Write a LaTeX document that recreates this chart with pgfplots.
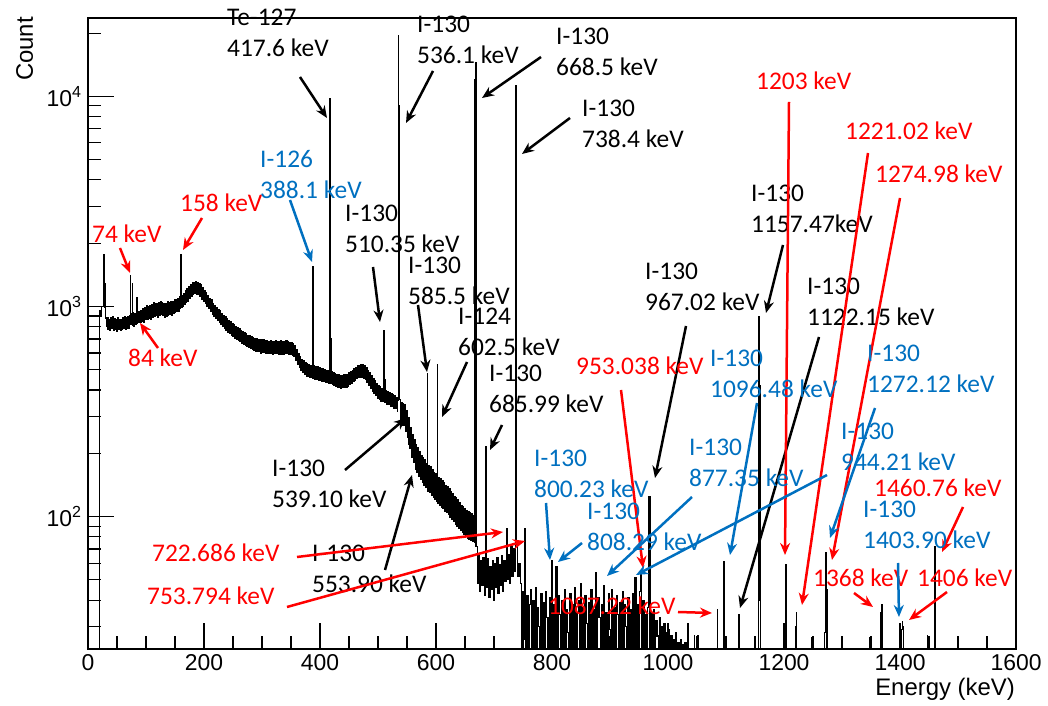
\documentclass[border=0pt]{standalone}
\usepackage{fontspec}
\setmainfont{Liberation Sans}
\newfontfamily\annofont{Carlito}
\usepackage{pgfplots}
\pgfplotsset{compat=1.18}
\usepackage{pgfplotstable}
\usetikzlibrary{arrows.meta,calc}
\definecolor{annored}{RGB}{255,0,0}
\definecolor{annoblue}{RGB}{0,112,192}

% gamma spectrum, counts per bin (values below ymin fall off the bottom, like empty bins)
\pgfplotstableread[row sep=\\]{
E N\\
19 1\\ 20 960\\ 22 900\\ 24 1000\\ 27 1770\\ 28 990\\ 29 1290\\ 30 880\\ 31.5 800\\
33 885\\ 34.5 775\\ 36 870\\ 37.5 770\\ 39 880\\ 40.5 785\\ 42 890\\ 43.5 765\\ 45 875\\ 46.5 780\\
48 865\\ 49.5 760\\ 51 880\\ 52.5 775\\ 54 870\\ 55.5 770\\ 57 865\\ 58.5 780\\ 60 885\\ 61.5 790\\
63 895\\ 64.5 775\\ 66 880\\ 67.5 785\\ 69 890\\ 70.5 790\\ 72 900\\ 73 1400\\ 74 820\\ 75 920\\
76 1290\\ 77 815\\ 78 930\\ 79 800\\ 80.5 925\\ 82 820\\ 83 935\\ 84 1100\\ 85 830\\ 86 945\\
87 835\\ 88.5 950\\ 90 840\\ 91.5 960\\ 93 850\\ 94.5 975\\ 96 835\\ 97.5 985\\ 99 865\\ 100.5 1010\\
102 870\\ 103.5 1000\\ 105 875\\ 106.5 1005\\ 108 870\\ 109.5 1015\\ 111 890\\ 112.5 1040\\ 114 895\\ 115.5 1030\\
117 905\\ 118.5 1035\\ 120 890\\ 121.5 1040\\ 123 905\\ 124.5 1060\\ 126 915\\ 127.5 1045\\ 129 910\\ 130.5 1035\\
132 890\\ 133.5 1030\\ 135 900\\ 136.5 1050\\ 138 905\\ 139.5 1040\\ 141 915\\ 142.5 1050\\ 144 905\\ 145.5 1055\\
147 930\\ 148.5 1075\\ 150 940\\ 151.5 1080\\ 153 950\\ 154.5 1095\\ 156 945\\ 157.5 1110\\ 159 975\\ 160 1770\\
161 990\\ 162 1130\\ 163 1000\\ 164.5 1155\\ 166 1020\\ 167.5 1185\\ 169 1045\\ 170.5 1215\\ 172 1060\\ 173.5 1240\\
175 1095\\ 176.5 1270\\ 178 1115\\ 179.5 1300\\ 181 1135\\ 182.5 1305\\ 184 1150\\ 185.5 1320\\ 187 1140\\ 188.5 1305\\
190 1140\\ 191.5 1290\\ 193 1115\\ 194.5 1265\\ 196 1085\\ 197.5 1230\\ 199 1060\\ 200.5 1195\\ 202 1035\\ 203.5 1170\\
205 1005\\ 206.5 1130\\ 208 975\\ 209.5 1095\\ 211 950\\ 212.5 1075\\ 214 920\\ 215.5 1035\\ 217 900\\ 218.5 1010\\
220 875\\ 221.5 990\\ 223 855\\ 224.5 965\\ 226 835\\ 227.5 955\\ 229 820\\ 230.5 925\\ 232 800\\ 233.5 905\\
235 785\\ 236.5 890\\ 238 765\\ 239.5 875\\ 241 755\\ 242.5 860\\ 244 745\\ 245.5 845\\ 247 730\\ 248.5 825\\
250 720\\ 251.5 815\\ 253 705\\ 254.5 800\\ 256 700\\ 257.5 790\\ 259 690\\ 260.5 785\\ 262 680\\ 263.5 770\\
265 665\\ 266.5 760\\ 268 660\\ 269.5 750\\ 271 655\\ 272.5 745\\ 274 645\\ 275.5 730\\ 277 635\\ 278.5 725\\
280 630\\ 281.5 715\\ 283 625\\ 284.5 712\\ 286 620\\ 287.5 705\\ 289 610\\ 290.5 700\\ 292 612\\ 293.5 698\\
295 608\\ 296.5 695\\ 298 600\\ 299.5 692\\ 301 605\\ 302.5 695\\ 304 603\\ 305.5 688\\ 307 598\\ 308.5 685\\
310 598\\ 311.5 683\\ 313 595\\ 314.5 688\\ 316 596\\ 317.5 680\\ 319 592\\ 320.5 680\\ 322 595\\ 323.5 684\\
325 595\\ 326.5 680\\ 328 590\\ 329.5 680\\ 331 594\\ 332.5 686\\ 334 594\\ 335.5 680\\ 337 592\\ 338.5 681\\
340 596\\ 341.5 684\\ 343 595\\ 344.5 678\\ 346 590\\ 347.5 676\\ 349 592\\ 350.5 672\\ 352 585\\ 353.5 665\\
355 575\\ 356.5 650\\ 358 555\\ 359.5 625\\ 361 530\\ 362.5 595\\ 364 512\\ 365.5 575\\ 367 495\\ 368.5 560\\
370 483\\ 371.5 550\\ 373 474\\ 374.5 540\\ 376 465\\ 377.5 535\\ 379 463\\ 380.5 530\\ 382 458\\ 383.5 525\\
385 457\\ 386 520\\ 387 1550\\ 388 455\\ 389.5 520\\ 391 450\\ 392.5 515\\ 394 450\\ 395.5 515\\ 397 445\\
398.5 510\\ 400 445\\ 401.5 508\\ 403 440\\ 404.5 505\\ 406 440\\ 407.5 500\\ 409 435\\ 410.5 497\\ 412 434\\
413.5 496\\ 415 430\\ 416 490\\ 417 9750\\ 418 700\\ 419 428\\ 420 488\\ 421 425\\ 422.5 484\\ 424 420\\
425.5 480\\ 427 417\\ 428.5 476\\ 430 412\\ 431.5 472\\ 433 412\\ 434.5 470\\ 436 408\\ 437.5 469\\ 439 410\\
440.5 472\\ 442 411\\ 443.5 472\\ 445 412\\ 446.5 476\\ 448 418\\ 449.5 484\\ 451 424\\ 452.5 490\\ 454 429\\
455.5 497\\ 457 438\\ 458.5 505\\ 460 443\\ 461.5 512\\ 463 452\\ 464.5 522\\ 466 458\\ 467.5 525\\ 469 459\\
470.5 529\\ 472 461\\ 473.5 526\\ 475 455\\ 476.5 520\\ 478 447\\ 479.5 512\\ 481 434\\ 482.5 496\\ 484 419\\
485.5 482\\ 487 408\\ 488.5 468\\ 490 394\\ 491.5 454\\ 493 385\\ 494.5 443\\ 496 376\\ 497.5 430\\ 499 366\\
500.5 422\\ 502 362\\ 503.5 414\\ 505 354\\ 506.5 408\\ 508 352\\ 509 400\\ 510 770\\ 511 450\\ 512 348\\
513.5 398\\ 515 341\\ 516.5 393\\ 518 340\\ 519.5 390\\ 521 334\\ 522.5 384\\ 524 333\\ 525.5 382\\ 527 328\\
528.5 376\\ 530 326\\ 531.5 370\\ 533 316\\ 534 355\\ 535 19500\\ 536 9000\\
537 360\\ 538.5 285\\ 540 350\\ 541.5 272\\ 543 345\\ 544.5 270\\ 546 340\\ 547.5 255\\ 549 320\\ 550.5 238\\
552 295\\ 553 220\\ 554 295\\ 555 210\\ 556.5 265\\ 558 192\\ 559.5 246\\ 561 180\\ 562.5 232\\ 564 168\\
565.5 220\\ 567 162\\ 568.5 212\\ 570 155\\ 571.5 204\\ 573 150\\ 574.5 196\\ 576 145\\ 577.5 190\\ 579 141\\
580.5 186\\ 582 137\\ 583.5 179\\ 585 480\\ 586 132\\ 587.5 174\\ 589 130\\ 590.5 172\\ 592 126\\ 593.5 168\\
595 123\\ 596.5 162\\ 598 120\\ 599.5 160\\ 601 118\\ 602 530\\ 603 116\\ 604.5 154\\ 606 113\\ 607.5 151\\
609 111\\ 610.5 148\\ 612 109\\ 613.5 145\\ 615 106\\ 616.5 141\\ 618 104\\ 619.5 139\\ 621 102\\ 622.5 136\\
624 99\\ 625.5 131\\ 627 97\\ 628.5 129\\ 630 95\\ 631.5 125\\ 633 92\\ 634.5 123\\ 636 90\\ 637.5 120\\
639 88\\ 640.5 117\\ 642 86\\ 643.5 113\\ 645 84\\ 646.5 111\\ 648 82\\ 649.5 109\\ 651 80\\ 652.5 107\\
654 79\\ 655.5 105\\ 657 78\\ 658.5 104\\ 660 77\\ 661.5 103\\ 663 76\\ 664.5 101\\ 666 75\\
667 12000\\ 668 14500\\
669 72\\ 671 48\\ 673 66\\ 675 44\\ 677 62\\ 679 47\\ 681 64\\ 683 42\\ 685 60\\ 686 215\\
687 46\\ 689 63\\ 691 41\\ 693 58\\ 695 45\\ 697 62\\ 699 40\\ 701 60\\ 703 46\\ 705 64\\
707 43\\ 709 59\\ 711 47\\ 713 65\\ 715 44\\ 717 62\\ 719 49\\ 721 67\\ 722 88\\ 723 50\\
725 66\\ 727 48\\ 729 72\\ 731 52\\ 733 70\\ 735 55\\ 737 3500\\ 738 11250\\ 739 74\\ 741 52\\
743 60\\ 745 48\\ 747 20\\ 749 44\\ 751 26\\ 753 88\\ 755 15\\ 757 42\\ 759 19\\ 761 38\\
763 45\\ 765 12\\ 767 40\\ 769 21\\ 771 46\\ 773 17\\ 775 37\\ 777 30\\ 779 14\\ 781 43\\
783 20\\ 785 39\\ 787 10\\ 789 44\\ 791 33\\ 793 18\\ 795 41\\ 797 22\\ 799 62\\ 801 12\\
803 38\\ 805 20\\ 807 58\\ 809 16\\ 811 42\\ 813 34\\ 815 13\\ 817 40\\ 819 21\\ 821 45\\
823 18\\ 825 36\\ 827 28\\ 829 11\\ 831 43\\ 833 19\\ 835 38\\ 837 22\\ 839 46\\ 841 15\\
843 35\\ 845 40\\ 847 10\\ 849 48\\ 851 20\\ 853 37\\ 855 17\\ 857 42\\ 859 31\\ 861 14\\
863 39\\ 865 21\\ 867 45\\ 869 12\\ 871 36\\ 873 19\\ 875 54\\ 877 16\\ 879 41\\ 881 33\\
883 20\\ 885 38\\ 887 13\\ 889 47\\ 891 22\\ 893 35\\ 895 18\\ 897 43\\ 899 29\\ 901 11\\
903 45\\ 905 20\\ 907 37\\ 909 16\\ 911 42\\ 913 34\\ 915 12\\ 917 39\\ 919 21\\ 921 44\\
923 17\\ 925 38\\ 927 30\\ 929 14\\ 931 41\\ 933 20\\ 935 36\\ 937 15\\ 939 43\\ 941 19\\
943 51\\ 945 13\\ 947 38\\ 949 26\\ 951 44\\ 953 53\\ 955 17\\ 957 40\\ 959 20\\ 961 34\\
963 12\\ 965 37\\ 967 124\\ 969 18\\ 971 35\\ 973 14\\ 975 36\\ 977 20\\ 979 32\\ 981 27\\
983 11\\ 985 33\\ 987 18\\ 989 30\\ 991 13\\ 993 31\\ 995 20\\ 997 28\\ 999 10\\ 1001 29\\
1003 17\\ 1005 27\\ 1007 12\\ 1009 26\\ 1011 18\\ 1013 28\\ 1015 10\\ 1017 25\\ 1019 14\\ 1021 26\\
1023 10\\ 1025 24.5\\ 1027 12\\ 1029 25\\ 1031 10\\
1034 31\\ 1035 10\\ 1045 27\\ 1046 10\\ 1051 27\\ 1052 10\\ 1085 36\\ 1086 10\\
1095 55\\ 1096 61\\ 1097 48\\ 1098 10\\ 1121 31\\ 1122 34\\ 1123 10\\
1156 40\\ 1157 890\\ 1158 420\\ 1159 55\\ 1160 10\\ 1202 29\\ 1203 59\\ 1204 32\\ 1205 10\\
1220 30\\ 1221 35\\ 1222 10\\ 1248 26.5\\ 1249 10\\ 1270 28\\ 1271 36\\ 1272 67\\ 1273 45\\ 1274 10\\
1300 26.5\\ 1301 10\\ 1348 26.5\\ 1349 10\\ 1367 35\\ 1368 38\\ 1369 10\\
1403 29\\ 1404 31.6\\ 1405 30\\ 1406 10\\ 1447 27\\ 1448 10\\ 1459 45\\ 1460 72\\ 1461 10\\
1500 26.5\\ 1501 10\\ 1550 26.5\\ 1551 10\\ 1600 10\\
}\spectrum

\newcommand\twolab[5]{%
  \node[anchor=base west,text=#1] at (#2,#3) {#4};
  \node[anchor=base west,text=#1] at (#2,#3+31) {#5};}
\newcommand\onelab[4]{\node[anchor=base west,text=#1] at (#2,#3) {#4};}
\newcommand\arr[5]{\draw[#1,line width=2.5bp,-{Stealth[length=12bp,width=10bp]}] (#2,#3) -- (#4,#5);}

\begin{document}
\begin{tikzpicture}
\begin{axis}[name=ax, scale only axis, width=928bp, height=631bp,
  xmin=0, xmax=1600, ymin=23.4, ymax=23600, ymode=log,
  axis line style={line width=1.1bp},
  tick align=inside, xtick pos=left, ytick pos=left,
  xtick={0,200,...,1600}, minor x tick num=3,
  ytick={100,1000,10000},
  yticklabels={10\textsuperscript{2},10\textsuperscript{3},10\textsuperscript{4}},
  minor ytick={30,40,50,60,70,80,90,200,300,400,500,600,700,800,900,2000,3000,4000,5000,6000,7000,8000,9000,20000},
  major tick length=26bp, minor tick length=13bp,
  every tick/.style={black, line width=1.1bp},
  ticklabel style={font=\fontsize{23}{23}\selectfont},
  /pgf/number format/assume math mode=true, /pgf/number format/1000 sep={},
  yticklabel style={xshift=-3bp},
  xticklabel style={yshift=-2bp},
]
\addplot[const plot, black, line width=1.15bp] table[x=E,y=N] {\spectrum};
\end{axis}

% annotations, positioned in picture pixels (origin top left)
\begin{scope}[shift={($(ax.south west)+(-88bp,649bp)$)}, x=1bp, y=-1bp,
  every node/.style={inner sep=0pt, font=\annofont\fontsize{25.5}{30}\selectfont}]
\node[anchor=base east, font=\rmfamily\fontsize{24}{24}\selectfont] at (1015,696) {Energy (keV)};
\node[anchor=base east, rotate=90, font=\rmfamily\fontsize{24}{24}\selectfont] at (33,17) {Count};

% black
\twolab{black}{227}{26}{Te-127}{417.6 keV}
\twolab{black}{417}{33}{I-130}{536.1 keV}
\twolab{black}{556}{45}{I-130}{668.5 keV}
\twolab{black}{582}{117}{I-130}{738.4 keV}
\twolab{black}{345}{222}{I-130}{510.35 keV}
\twolab{black}{408}{274}{I-130}{585.5 keV}
\twolab{black}{458}{325}{I-124}{602.5 keV}
\twolab{black}{489}{382}{I-130}{685.99 keV}
\twolab{black}{645}{280}{I-130}{967.02 keV}
\twolab{black}{751}{202}{I-130}{1157.47keV}
\twolab{black}{807}{295}{I-130}{1122.15 keV}
\twolab{black}{272}{477}{I-130}{539.10 keV}
\twolab{black}{312}{562}{I-130}{553.90 keV}
\arr{black}{300}{77}{327}{118}
\arr{black}{433}{71}{406}{123}
\arr{black}{541}{57}{482}{98}
\arr{black}{570}{118}{522}{154}
\arr{black}{373}{267}{380}{322}
\arr{black}{418}{305}{427}{372}
\arr{black}{467}{362}{442}{417}
\arr{black}{502}{425}{490}{450}
\arr{black}{686}{326}{655}{478}
\arr{black}{783}{245}{766}{313}
\arr{black}{819}{337}{740}{608}
\arr{black}{345}{470}{406}{418}
\arr{black}{385}{570}{412}{475}

% red
\onelab{annored}{92}{243}{74 keV}
\onelab{annored}{180}{212}{158 keV}
\onelab{annored}{128}{367}{84 keV}
\onelab{annored}{152}{562}{722.686 keV}
\onelab{annored}{147}{605}{753.794 keV}
\onelab{annored}{576}{375}{953.038 keV}
\onelab{annored}{548}{615}{1087.22 keV}
\onelab{annored}{756}{90}{1203 keV}
\onelab{annored}{845}{140}{1221.02 keV}
\onelab{annored}{875}{183}{1274.98 keV}
\onelab{annored}{813}{587}{1368 keV}
\onelab{annored}{917}{587}{1406 keV}
\onelab{annored}{874}{497}{1460.76 keV}
\arr{annored}{120}{248}{130}{273}
\arr{annored}{202}{218}{183}{250}
\arr{annored}{158}{348}{140}{323}
\arr{annored}{297}{557}{503}{532}
\arr{annored}{287}{607}{525}{541}
\arr{annored}{621}{390}{643}{568}
\arr{annored}{678}{612}{712}{613}
\arr{annored}{789}{102}{785}{555}
\arr{annored}{868}{153}{802}{605}
\arr{annored}{900}{198}{832}{560}
\arr{annored}{854}{593}{873}{607}
\arr{annored}{947}{592}{909}{620}
\arr{annored}{963}{507}{942}{552}

% blue
\twolab{annoblue}{260}{168}{I-126}{388.1 keV}
\twolab{annoblue}{534}{467}{I-130}{800.23 keV}
\twolab{annoblue}{587}{520}{I-130}{808.29 keV}
\twolab{annoblue}{689}{456}{I-130}{877.35 keV}
\twolab{annoblue}{841}{440}{I-130}{944.21 keV}
\twolab{annoblue}{710}{367}{I-130}{1096.48 keV}
\twolab{annoblue}{867}{362}{I-130}{1272.12 keV}
\twolab{annoblue}{863}{518}{I-130}{1403.90 keV}
\arr{annoblue}{290}{200}{312}{262}
\arr{annoblue}{546}{503}{550}{560}
\arr{annoblue}{582}{543}{558}{562}
\arr{annoblue}{692}{497}{607}{576}
\arr{annoblue}{827}{475}{636}{575}
\arr{annoblue}{757}{403}{730}{555}
\arr{annoblue}{875}{408}{830}{538}
\arr{annoblue}{898}{563}{899}{617}

\pgfresetboundingbox
\path (0,0) rectangle (1048,706);
\end{scope}
\end{tikzpicture}
\end{document}
